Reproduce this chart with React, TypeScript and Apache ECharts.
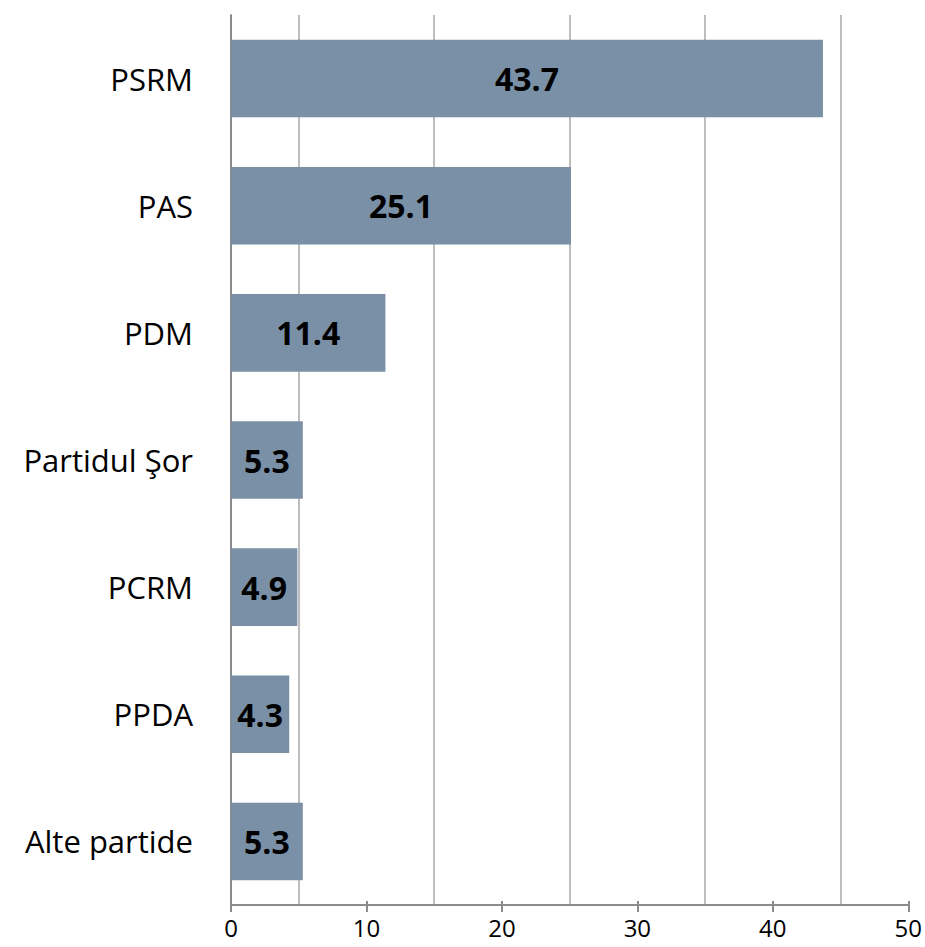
import React, { useEffect, useRef } from "react";
import * as echarts from "echarts";

const categories = ["PSRM", "PAS", "PDM", "Partidul Şor", "PCRM", "PPDA", "Alte partide"];
const values = [43.7, 25.1, 11.4, 5.3, 4.9, 4.3, 5.3];
const xTicks = [0, 10, 20, 30, 40, 50];

export default function App() {
  const ref = useRef<HTMLDivElement>(null);
  useEffect(() => {
    if (!ref.current) return;
    const chart = echarts.init(ref.current, null, { renderer: "svg" });
    const font = "'Open Sans', 'Noto Sans', sans-serif";
    chart.setOption({
      animation: false,
      backgroundColor: "#ffffff",
      grid: { left: 231, right: 15, top: 15, bottom: 42, containLabel: false },
      xAxis: [
        {
          type: "value",
          min: xTicks[0],
          max: xTicks[xTicks.length - 1],
          interval: 10,
          axisLine: { show: true, lineStyle: { color: "#8c8c8c", width: 2 } },
          axisTick: { show: true, length: 7, lineStyle: { color: "#8c8c8c", width: 2 } },
          axisLabel: { color: "#000", fontSize: 24, fontFamily: font, margin: 10 },
          splitLine: { show: false },
          minorTick: { show: false, splitNumber: 2 },
          minorSplitLine: { show: true, lineStyle: { color: "#bdbdbd", width: 2 } },
        },
        {
          type: "value",
          position: "bottom",
          min: 0,
          max: 50,
          interval: 10,
          axisLine: { show: false },
          axisTick: { show: true, inside: true, length: 4, lineStyle: { color: "#8c8c8c", width: 2 } },
          axisLabel: { show: false },
          splitLine: { show: false },
        },
      ],
      yAxis: {
        type: "category",
        data: categories,
        inverse: true,
        axisLine: { show: true, lineStyle: { color: "#8c8c8c", width: 2 } },
        axisTick: { show: false },
        axisLabel: { color: "#000", fontSize: 31, fontFamily: font, margin: 38 },
      },
      series: [
        {
          type: "bar",
          data: values,
          barCategoryGap: "39%",
          itemStyle: { color: "#7990a7" },
          label: {
            show: true,
            position: "inside",
            color: "#000",
            fontSize: 32,
            fontWeight: "bold",
            fontFamily: font,
            formatter: (p: any) => p.value.toFixed(1),
          },
        },
      ],
    });
    return () => chart.dispose();
  }, []);
  return (
    <div
      ref={ref}
      style={{ position: "fixed", left: 0, top: 0, width: 925, height: 947 }}
    />
  );
}
